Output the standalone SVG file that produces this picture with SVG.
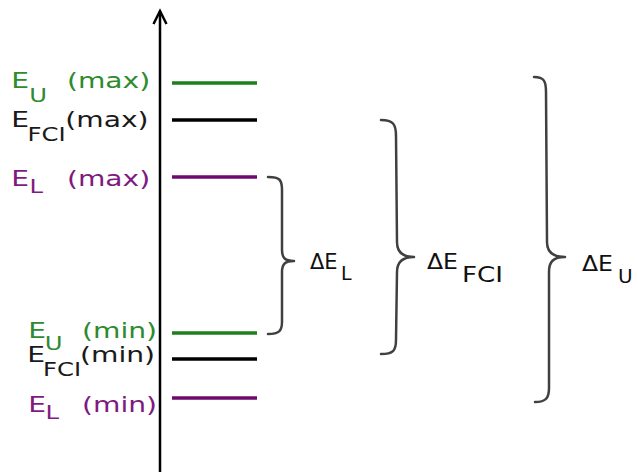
<svg xmlns="http://www.w3.org/2000/svg" width="638" height="472" viewBox="0 0 638 472">
<style>
text{font-family:"DejaVu Sans",Verdana,sans-serif;font-size:22px}
.sub{font-size:19px}
.g{fill:#2e8b2e}.k{fill:#1a1a1a}.p{fill:#7f1a7f}
.lg{stroke:#1f7f1f}.lk{stroke:#000}.lp{stroke:#6e0a6e}
.lvl{stroke-width:3.5;fill:none}
.brace{fill:none;stroke:#404040;stroke-width:2.5;stroke-linecap:round;stroke-linejoin:round}
.d{fill:#111}
</style>
<rect width="638" height="472" fill="#fff"/>
<g id="axis">
<line x1="160" y1="11" x2="160" y2="472" stroke="#000" stroke-width="2.5"/>
<polyline points="153.5,24 160,11 166.5,24" fill="none" stroke="#000" stroke-width="2.5"/>
</g>
<g id="levels">
<line class="lvl lg" x1="172" y1="83" x2="257" y2="83"/>
<line class="lvl lk" x1="172" y1="120" x2="257" y2="120"/>
<line class="lvl lp" x1="172" y1="177" x2="257" y2="177"/>
<line class="lvl lg" x1="172" y1="333" x2="257" y2="333"/>
<line class="lvl lk" x1="172" y1="359" x2="257" y2="359"/>
<line class="lvl lp" x1="172" y1="398" x2="257" y2="398"/>
</g>
<g id="labels">
<text class="g" transform="scale(1.28,1)" x="8.8" y="88">E<tspan class="sub" x="22.8" y="102">U</tspan><tspan x="52.3" y="88">(max)</tspan></text>
<text class="k" transform="scale(1.28,1)" x="8.8" y="127">E<tspan class="sub" x="21.5" y="141">FCI</tspan><tspan x="51" y="127">(max)</tspan></text>
<text class="p" transform="scale(1.28,1)" x="8.8" y="186">E<tspan class="sub" x="23" y="193">L</tspan><tspan x="52.3" y="186">(max)</tspan></text>
<text class="g" transform="scale(1.28,1)" x="22" y="338">E<tspan class="sub" x="35" y="350">U</tspan><tspan x="64.1" y="338">(min)</tspan></text>
<text class="k" transform="scale(1.28,1)" x="21.3" y="362">E<tspan class="sub" x="33.6" y="376">FCI</tspan><tspan x="62.5" y="362">(min)</tspan></text>
<text class="p" transform="scale(1.28,1)" x="22" y="412">E<tspan class="sub" x="35.5" y="419">L</tspan><tspan x="64.1" y="412">(min)</tspan></text>
</g>
<g id="connectors">
<path class="brace" d="M268,177 C280,177 282,180 282,190 L282,250 C282,258 285,261 294,261 C285,261 282,264 282,272 L282,322 C282,331 279,334 268,334"/>
<path class="brace" d="M381,120 C393,120 396,124 396,136 L397,242 C397,252 402,257 414,257 C402,257 397,262 397,272 L396,340 C396,351 393,354 381,354"/>
<path class="brace" d="M534,77 C544,77 546,81 546,92 L547,242 C547,252 553,257 565,257 C553,257 549,262 549,272 L549,388 C549,398 546,402 535,402"/>
</g>
<g id="deltas">
<text class="d" x="310" y="269" style="font-size:21px">ΔE<tspan x="341" y="280" style="font-size:19px">L</tspan></text>
<text class="d" x="427" y="269" textLength="31" lengthAdjust="spacingAndGlyphs">ΔE</text>
<text class="d" x="462" y="282" style="font-size:21px" textLength="41" lengthAdjust="spacingAndGlyphs">FCI</text>
<text class="d" x="582" y="271" textLength="31" lengthAdjust="spacingAndGlyphs">ΔE</text>
<text class="d" x="618" y="283" style="font-size:20px">U</text>
</g>
</svg>
